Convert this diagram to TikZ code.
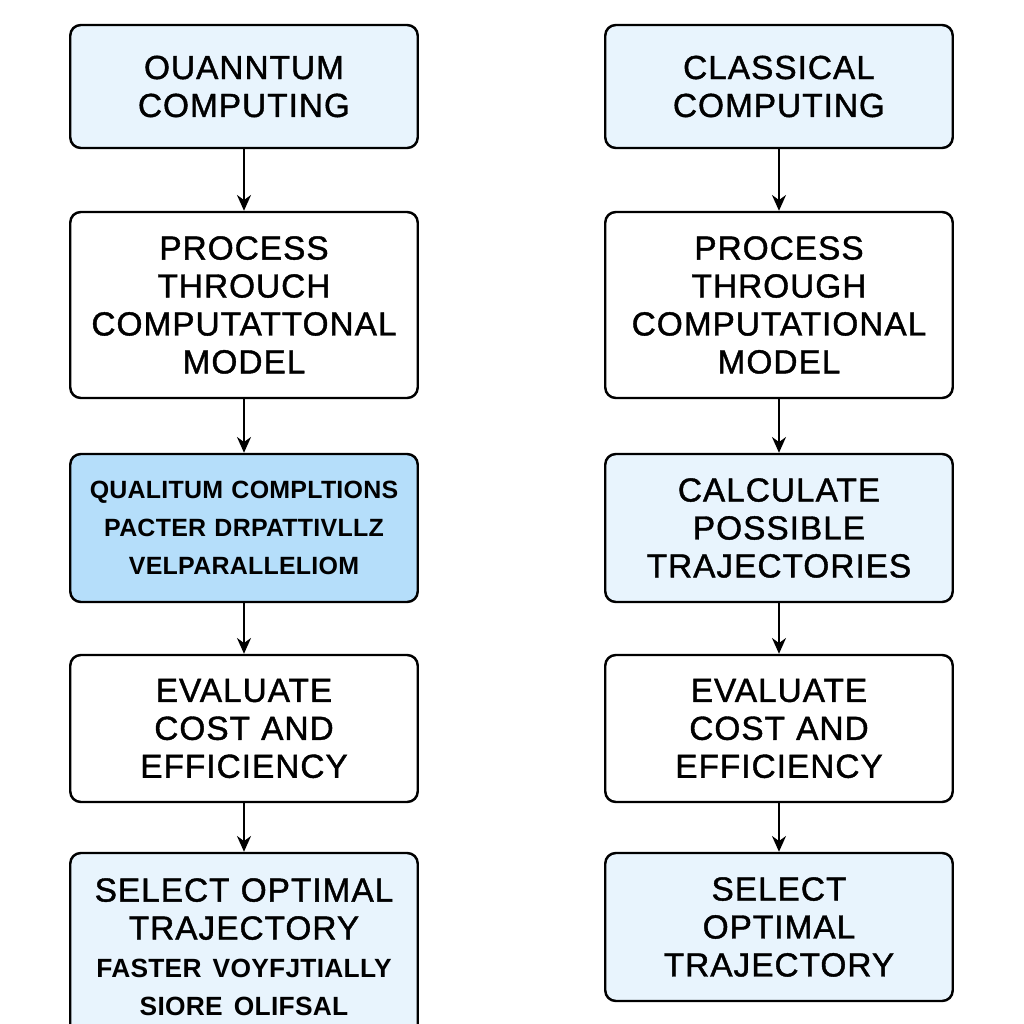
\documentclass[tikz,border=0pt]{standalone}
\usepackage{fontspec}
\setmainfont[LetterSpace=3,FakeBold=1.2]{Liberation Sans}
\newfontfamily\heavyfont[LetterSpace=1]{Liberation Sans Bold}
\usetikzlibrary{arrows.meta}
\definecolor{paleblue}{HTML}{E8F4FD}
\definecolor{skyblue}{HTML}{B5DEFA}

\tikzset{
    stepbox/.style={draw=black, line width=1.4pt, rounded corners=6pt, align=center,
        text width=6.6cm, minimum width=6.95cm, inner sep=0pt,
        font=\fontsize{19}{21.6}\selectfont},
    flowarrow/.style={line width=1.1pt, -{Stealth[length=9pt,width=8pt]}}
}

\begin{document}
\begin{tikzpicture}
    \useasboundingbox (0,0) rectangle (20.48,20.48);
    \clip (0,0) rectangle (20.48,20.48);
    % quantum column
    \node[stepbox, fill=paleblue, minimum height=2.46cm] (q1) at (4.88,18.75) {OUANNTUM\\COMPUTING};
    \node[stepbox, fill=white, minimum height=3.72cm] (q2) at (4.88,14.38) {PROCESS\\THROUCH\\COMPUTATTONAL\\MODEL};
    \node[stepbox, fill=skyblue, minimum height=2.96cm, font=\heavyfont\fontsize{14.2}{21.6}\selectfont] (q3) at (4.88,9.92) {QUALITUM COMPLTIONS\\PACTER DRPATTIVLLZ\\VELPARALLELIOM};
    \node[stepbox, fill=white, minimum height=2.94cm] (q4) at (4.88,5.91) {EVALUATE\\COST AND\\EFFICIENCY};
    \node[stepbox, fill=paleblue, minimum height=3.76cm] (q5) at (4.88,1.54) {SELECT OPTIMAL\\TRAJECTORY\\{\heavyfont\fontsize{15}{21.6}\selectfont FASTER VOYFJTIALLY}\\{\heavyfont\fontsize{15}{21.6}\selectfont SIORE OLIFSAL}};
    % classical column
    \node[stepbox, fill=paleblue, minimum height=2.46cm] (c1) at (15.58,18.75) {CLASSICAL\\COMPUTING};
    \node[stepbox, fill=white, minimum height=3.72cm] (c2) at (15.58,14.38) {PROCESS\\THROUGH\\COMPUTATIONAL\\MODEL};
    \node[stepbox, fill=paleblue, minimum height=2.96cm] (c3) at (15.58,9.92) {CALCULATE\\POSSIBLE\\TRAJECTORIES};
    \node[stepbox, fill=white, minimum height=2.94cm] (c4) at (15.58,5.91) {EVALUATE\\COST AND\\EFFICIENCY};
    \node[stepbox, fill=paleblue, minimum height=2.96cm] (c5) at (15.58,1.94) {SELECT\\OPTIMAL\\TRAJECTORY};
    % arrows
    \foreach \a/\b in {q1/q2,q2/q3,q3/q4,q4/q5,c1/c2,c2/c3,c3/c4,c4/c5}
        \draw[flowarrow] (\a.south) -- (\b.north);
\end{tikzpicture}
\end{document}
